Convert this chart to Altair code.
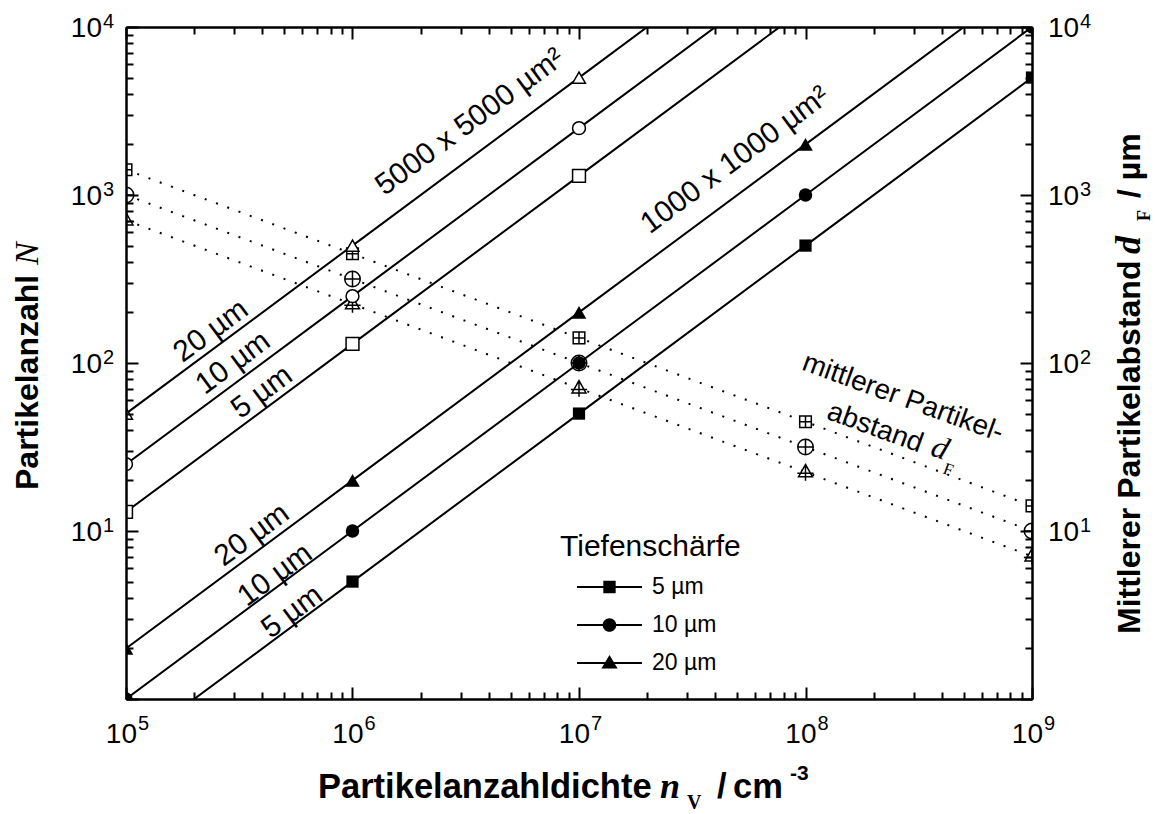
import altair as alt
import pandas as pd

W, H = 906, 672

# ---------------- data ----------------
nv = [1e5, 1e6, 1e7, 1e8, 1e9]            # Partikelanzahldichte n_V / cm^-3
depths = ["5 µm", "10 µm", "20 µm"]        # Tiefenschärfe

# Partikelanzahl N, Messfeld 1000 x 1000 µm²
n_1000_5 = [0.5, 5, 50, 500, 5000]
n_1000_10 = [1, 10, 100, 1000, 10000]
n_1000_20 = [2, 20, 200, 2000, 20000]
# Partikelanzahl N, Messfeld 5000 x 5000 µm²
n_5000_5 = [13, 130, 1300, 13000, 130000]
n_5000_10 = [25, 250, 2500, 25000, 250000]
n_5000_20 = [50, 500, 5000, 50000, 500000]
# mittlerer Partikelabstand d_F / µm
dF_5 = [1414, 447, 141, 44.7, 14.1]
dF_10 = [1000, 316, 100, 31.6, 10]
dF_20 = [707, 224, 70.7, 22.4, 7.07]

# ticks / tick labels
x_major = [1e5, 1e6, 1e7, 1e8, 1e9]
x_exp = ["5", "6", "7", "8", "9"]
y_major = [1, 10, 100, 1000, 10000]
y_lab = [10, 100, 1000, 10000]
y_exp = ["1", "2", "3", "4"]
mant = [2, 3, 4, 5, 6, 7, 8, 9]
x_minor = [m * 10 ** k for k in range(5, 9) for m in mant]
y_minor = [m * 10 ** k for k in range(0, 4) for m in mant]

# annotations (data coordinates)
ann_text = ["5000 x 5000 µm²", "1000 x 1000 µm²", "20 µm", "10 µm", "5 µm",
            "20 µm", "10 µm", "5 µm", "mittlerer Partikel-", "abstand"]
ann_x = [3.30e6, 4.89e7, 2.37e5, 2.97e5, 3.98e5, 3.6e5, 4.55e5, 5.41e5, 2.69e8, 2.03e8]
ann_y = [2720, 1615, 155, 100, 67, 9.46, 5.47, 3.30, 61.9, 41]
ann_angle = [323.5] * 8 + [20, 20]
ann_size = [30] * 8 + [28, 28]

# ---------------- tables ----------------
def long(series_list, names, group):
    rows = []
    for vals, name in zip(series_list, names):
        for x, y in zip(nv, vals):
            rows.append({"x": x, "y": y, "depth": name, "series": group + name})
    return rows

small = pd.DataFrame(long([n_1000_5, n_1000_10, n_1000_20], depths, "s"))
large = pd.DataFrame(long([n_5000_5, n_5000_10, n_5000_20], depths, "l"))
dist = pd.DataFrame(long([dF_5, dF_10, dF_20], depths, "d"))
solid = pd.concat([small, large], ignore_index=True)

xs = alt.Scale(type="log", domain=[1e5, 1e9], nice=False)
ys = alt.Scale(type="log", domain=[1, 1e4], nice=False)

SANS = "Liberation Sans"
SERIF = "Liberation Serif"


def axis(orient, values, size):
    return alt.Axis(orient=orient, values=values, labels=False, title=None, grid=False,
                    domain=True, domainColor="black", domainWidth=2,
                    ticks=True, tickColor="black", tickWidth=2,
                    tickSize={"expr": str(-size)}, zindex=1)


def X(ax=None):
    return alt.X("x:Q", scale=xs, axis=ax)


def Y(ax=None):
    return alt.Y("y:Q", scale=ys, axis=ax)


dotted = alt.Chart(dist).mark_line(clip=True, color="black", strokeWidth=2,
                                   strokeDash=[2, 10]).encode(
    x=X(axis("top", x_major, 12)), y=Y(axis("right", y_major, 12)), detail="series:N")

sq_plus = "M-0.75,-0.75H0.75V0.75H-0.75Z M0,-0.75V0.75 M-0.75,0H0.75"
ci_plus = "M-1,0A1,1 0 1,1 1,0A1,1 0 1,1 -1,0Z M0,-1V1 M-1,0H1"
tr_plus = "M0,-1L0.9,0.6H-0.9Z M0,-1V1.1 M-1.05,0.15H1.05"

dotted_pts = alt.Chart(dist).mark_point(clip=True, filled=True, fill="white", stroke="black",
                                        strokeWidth=1.5, size=240, opacity=1).encode(
    x=X(), y=Y(),
    shape=alt.Shape("depth:N", scale=alt.Scale(domain=depths, range=[sq_plus, ci_plus, tr_plus]),
                    legend=None))

lines = alt.Chart(solid).mark_line(clip=True, color="black", strokeWidth=2).encode(
    x=X(axis("bottom", x_major, 12)), y=Y(axis("left", y_major, 12)), detail="series:N")

open_pts = alt.Chart(large).mark_point(clip=True, filled=True, fill="white", stroke="black",
                                       strokeWidth=1.5, size=165, opacity=1).encode(
    x=X(), y=Y(),
    shape=alt.Shape("depth:N", scale=alt.Scale(domain=depths, range=["square", "circle", "triangle-up"]),
                    legend=None))

filled_pts = alt.Chart(small).mark_point(clip=True, filled=True, color="black", opacity=1).encode(
    x=X(), y=Y(),
    shape=alt.Shape("depth:N", scale=alt.Scale(domain=depths, range=["square", "circle", "triangle-up"]),
                    legend=None),
    size=alt.Size("depth:N", scale=alt.Scale(domain=depths, range=[150, 215, 210]), legend=None))

minor1 = alt.Chart(small).mark_point(opacity=0).encode(
    x=X(axis("bottom", x_minor, 7)), y=Y(axis("left", y_minor, 7)))
minor2 = alt.Chart(small).mark_point(opacity=0).encode(
    x=X(axis("top", x_minor, 7)), y=Y(axis("right", y_minor, 7)))

bar = "M-1,-0.032H1V0.032H-1Z "
leg_sq = bar + "M-0.19,-0.19H0.19V0.19H-0.19Z"
leg_ci = bar + "M-0.21,0A0.21,0.21 0 1,1 0.21,0A0.21,0.21 0 1,1 -0.21,0Z"
leg_tr = bar + "M0,-0.25L0.25,0.17H-0.25Z"

legend_layer = alt.Chart(small).transform_filter("datum.y < 0").mark_point(
    filled=True, color="black", opacity=1).encode(
    x=X(), y=Y(),
    shape=alt.Shape("depth:N", scale=alt.Scale(domain=depths, range=[leg_sq, leg_ci, leg_tr]),
                    legend=alt.Legend(title="Tiefenschärfe", orient="none", legendX=434, legendY=505,
                                      titleFont=SANS, titleFontSize=30, titleFontWeight="normal",
                                      titleColor="black", titleLimit=500, labelFont=SANS,
                                      labelFontSize=23, labelColor="black", labelLimit=300,
                                      symbolSize=4225, symbolStrokeWidth=0,
                                      symbolFillColor="black", symbolOpacity=1,
                                      clipHeight=38, rowPadding=0,
                                      labelOffset=10, symbolOffset=17, padding=0,
                                      titlePadding=6)))

ann = pd.DataFrame({"x": ann_x, "y": ann_y, "t": ann_text, "a": ann_angle, "fs": ann_size})
ann_layer = alt.Chart(ann).mark_text(font=SANS, color="black").encode(
    x=X(), y=Y(), text="t:N", angle=alt.Angle("a:Q", scale=None), size=alt.Size("fs:Q", scale=None))

d_layer = alt.Chart(pd.DataFrame({"x": [3.93e8], "y": [31.2], "t": ["d"]})).mark_text(
    font=SERIF, fontStyle="italic", fontSize=32, angle=20, color="black").encode(x=X(), y=Y(), text="t:N")
f_layer = alt.Chart(pd.DataFrame({"x": [4.26e8], "y": [23.1], "t": ["F"]})).mark_text(
    font=SERIF, fontSize=17, angle=20, color="black").encode(x=X(), y=Y(), text="t:N")

# tick labels
lx = pd.DataFrame({"x": x_major, "b": ["10"] * len(x_major), "e": x_exp})
ly = pd.DataFrame({"y": y_lab, "b": ["10"] * len(y_lab), "e": y_exp})
bx_b = alt.Chart(lx).mark_text(font=SANS, fontSize=28, align="right", baseline="alphabetic",
                               dx=11, color="black").encode(x=X(), y=alt.value(H + 44), text="b:N")
bx_e = alt.Chart(lx).mark_text(font=SANS, fontSize=20, align="left", baseline="alphabetic",
                               dx=12, color="black").encode(x=X(), y=alt.value(H + 31), text="e:N")
ly_b = alt.Chart(ly).mark_text(font=SANS, fontSize=28, align="right", baseline="alphabetic",
                               dy=10, color="black").encode(x=alt.value(-24), y=Y(), text="b:N")
ly_e = alt.Chart(ly).mark_text(font=SANS, fontSize=20, align="left", baseline="alphabetic",
                               dy=1, color="black").encode(x=alt.value(-23), y=Y(), text="e:N")
ry_b = alt.Chart(ly).mark_text(font=SANS, fontSize=28, align="left", baseline="alphabetic",
                               dy=10, color="black").encode(x=alt.value(W + 16), y=Y(), text="b:N")
ry_e = alt.Chart(ly).mark_text(font=SANS, fontSize=20, align="left", baseline="alphabetic",
                               dy=1, color="black").encode(x=alt.value(W + 48), y=Y(), text="e:N")


def label(text, x, y, angle=0, size=32, font=SANS, weight="bold", style="normal"):
    return alt.Chart(pd.DataFrame({"t": [text]})).mark_text(
        align="left", baseline="alphabetic", angle=angle, fontSize=size, font=font,
        fontWeight=weight, fontStyle=style, color="black").encode(
        text="t:N", x=alt.value(x), y=alt.value(y))


titles = [
    # x axis title
    label("Partikelanzahldichte", 192, H + 99, size=34.5),
    label("n", 534, H + 99, size=36, font=SERIF, style="italic"),
    label("V", 561, H + 110, size=20, font=SERIF),
    label("/", 591, H + 99, size=34.5),
    label("cm", 607, H + 99, size=34.5),
    label("-3", 664, H + 81, size=21),
    # left y axis title
    label("Partikelanzahl", -88, 463, angle=270, size=32),
    label("N", -88, 238, angle=270, size=34, font=SERIF, weight="normal", style="italic"),
    # right y axis title
    label("Mittlerer Partikelabstand", W + 108, 607, angle=270, size=32),
    label("d", W + 108, 227, angle=270, size=36, font=SERIF, style="italic"),
    label("F", W + 118, 194, angle=270, size=18, font=SERIF),
    label("/ µm", W + 108, 171, angle=270, size=32),
]

chart = alt.layer(
    dotted, dotted_pts, lines, open_pts, filled_pts, minor1, minor2, legend_layer,
    ann_layer, d_layer, f_layer, bx_b, bx_e, ly_b, ly_e, ry_b, ry_e, *titles
).properties(
    width=W, height=H,
    autosize=alt.AutoSizeParams(type="none"),
    padding={"left": 126, "top": 27, "right": 123, "bottom": 115},
).resolve_scale(shape="independent").resolve_axis(x="independent", y="independent").configure_view(
    stroke=None).configure(font=SANS)

chart.save("out.html", embed_options={"renderer": "svg", "actions": False})
